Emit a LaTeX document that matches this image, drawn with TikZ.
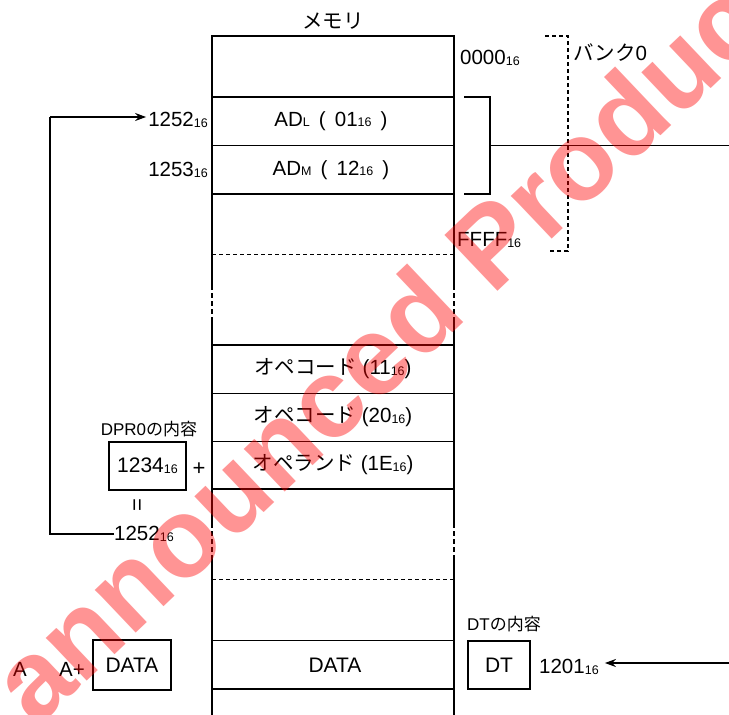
\documentclass[tikz,border=0pt]{standalone}
\usepackage{fontspec}
\setmainfont{Liberation Sans}
\newfontfamily\jpf{Noto Sans CJK JP}
\usetikzlibrary{arrows.meta}
\newcommand{\hx}{\raisebox{-0.6pt}{\fontsize{12.5}{12.5}\selectfont 16}}
\newcommand{\smsub}[1]{\raisebox{-0.6pt}{\fontsize{12.5}{12.5}\selectfont #1}}
\begin{document}
\begin{tikzpicture}[x=1pt,y=-1pt,
  lbl/.style={inner sep=0pt,font=\fontsize{20.5}{24}\selectfont},
  smlbl/.style={inner sep=0pt,font=\fontsize{17}{20}\selectfont},
  side/.style={line width=2.7pt},
  sidedot/.style={line width=2.7pt,dash pattern=on 4.5pt off 3.5pt},
  cell/.style={line width=1.5pt},
  celldash/.style={line width=1.5pt,dash pattern=on 4pt off 3pt},
  bankdash/.style={line width=1.4pt,dash pattern=on 4pt off 3pt},
  boxst/.style={draw,line width=2.9pt,inner sep=0pt,font=\fontsize{21}{24}\selectfont},
  arr/.style={line width=1.5pt,-{Stealth[length=11pt,width=8pt]}}]
\useasboundingbox (0,0) rectangle (729,715);
% memory column
\coordinate (mtl) at (212,36);
\coordinate (mtr) at (454,36);
\draw[side,line join=miter] (212,285) -- (mtl) -- (mtr) -- (454,285);
\draw[sidedot] (212,285) -- (212,322);
\draw[sidedot] (454,285) -- (454,322);
\draw[side] (212,322) -- (212,523);
\draw[side] (454,322) -- (454,523);
\draw[sidedot] (212,523) -- (212,560);
\draw[sidedot] (454,523) -- (454,560);
\draw[side] (212,560) -- (212,715);
\draw[side] (454,560) -- (454,715);
% cell lines
\foreach \yy in {97,145.5,194,345,393.5,441.5,489,640.5,689}
  \draw[cell] (212,\yy) -- (454,\yy);
\draw[celldash] (212,254.5) -- (454,254.5);
\draw[celldash] (212,579.5) -- (454,579.5);
% title
\node[lbl] (title) at (333,21) {\jpf メモリ};
% cell contents
\node[lbl] (adl) at (331,121) {AD\smsub{L} \,(\, 01\hx{} \,)};
\node[lbl] (adm) at (331,170) {AD\smsub{M} \,(\, 12\hx{} \,)};
\node[lbl] (op1) at (333,369) {{\jpf オペコード} (11\hx)};
\node[lbl] (op2) at (333,417) {{\jpf オペコード} (20\hx)};
\node[lbl] (op3) at (333,465) {{\jpf オペランド} (1E\hx)};
\node[lbl,font=\fontsize{21}{24}\selectfont] (datac) at (335,665) {DATA};
% addresses
\node[lbl,anchor=west] (a0000) at (460,58) {0000\hx};
\node[lbl,anchor=west] (affff) at (457,240) {FFFF\hx};
\node[lbl,anchor=west] (bank) at (573,53) {{\jpf バンク}0};
\node[lbl,anchor=east] (a1252) at (208,120) {1252\hx};
\node[lbl,anchor=east] (a1253) at (208,170) {1253\hx};
% bracket and line to the right
\coordinate (brt) at (464,97);
\coordinate (brb) at (464,194);
\coordinate (brm) at (490,145.5);
\coordinate (brend) at (729,145.5);
\draw[cell] (brt) -- (490,97) -- (490,194) -- (brb);
\draw[cell] (brm) -- (brend);
% bank dashed bracket
\draw[bankdash] (545,36) -- (568,36) -- (568,251) -- (548,251);
% DPR0
\node[smlbl] (dprlbl) at (149,429) {DPR0{\jpf の内容}};
\node[boxst,minimum width=77pt,minimum height=48pt] (dpr) at (147.5,466) {1234\hx};
\node[lbl,font=\fontsize{22}{24}\selectfont] (plus) at (199,469) {+};
\node[inner sep=0pt,font=\fontsize{22}{22}\selectfont,rotate=90] (eq) at (139,505) {=};
\node[lbl,anchor=west] (b1252) at (114,534) {1252\hx};
\coordinate (lp) at (50,117);
\draw[line width=1.5pt] (b1252.west) -| (lp);
\draw[arr] (lp) -- ([xshift=-2pt]a1252.west |- lp);
% DT
\node[smlbl,anchor=west] (dtlbl) at (467,624) {DT{\jpf の内容}};
\node[boxst,minimum width=62pt,minimum height=48pt] (dt) at (499,665) {DT};
\node[lbl,anchor=west] (a1201) at (539,667) {1201\hx};
\coordinate (rin) at (729,663);
\draw[arr] (rin) -- ([xshift=6pt]a1201.east |- rin);
% A, A+, DATA
\node[lbl] (ra) at (20,669) {A};
\node[lbl] (rap) at (72,669) {A+};
\node[boxst,minimum width=78pt,minimum height=50pt] (datab) at (132,665) {DATA};
% watermark
\node[inner sep=0pt,font=\fontsize{112}{112}\selectfont\bfseries,text=red,text opacity=0.42,rotate=43.5] (wm) at (390,338) {announced Product};
\end{tikzpicture}
\end{document}
